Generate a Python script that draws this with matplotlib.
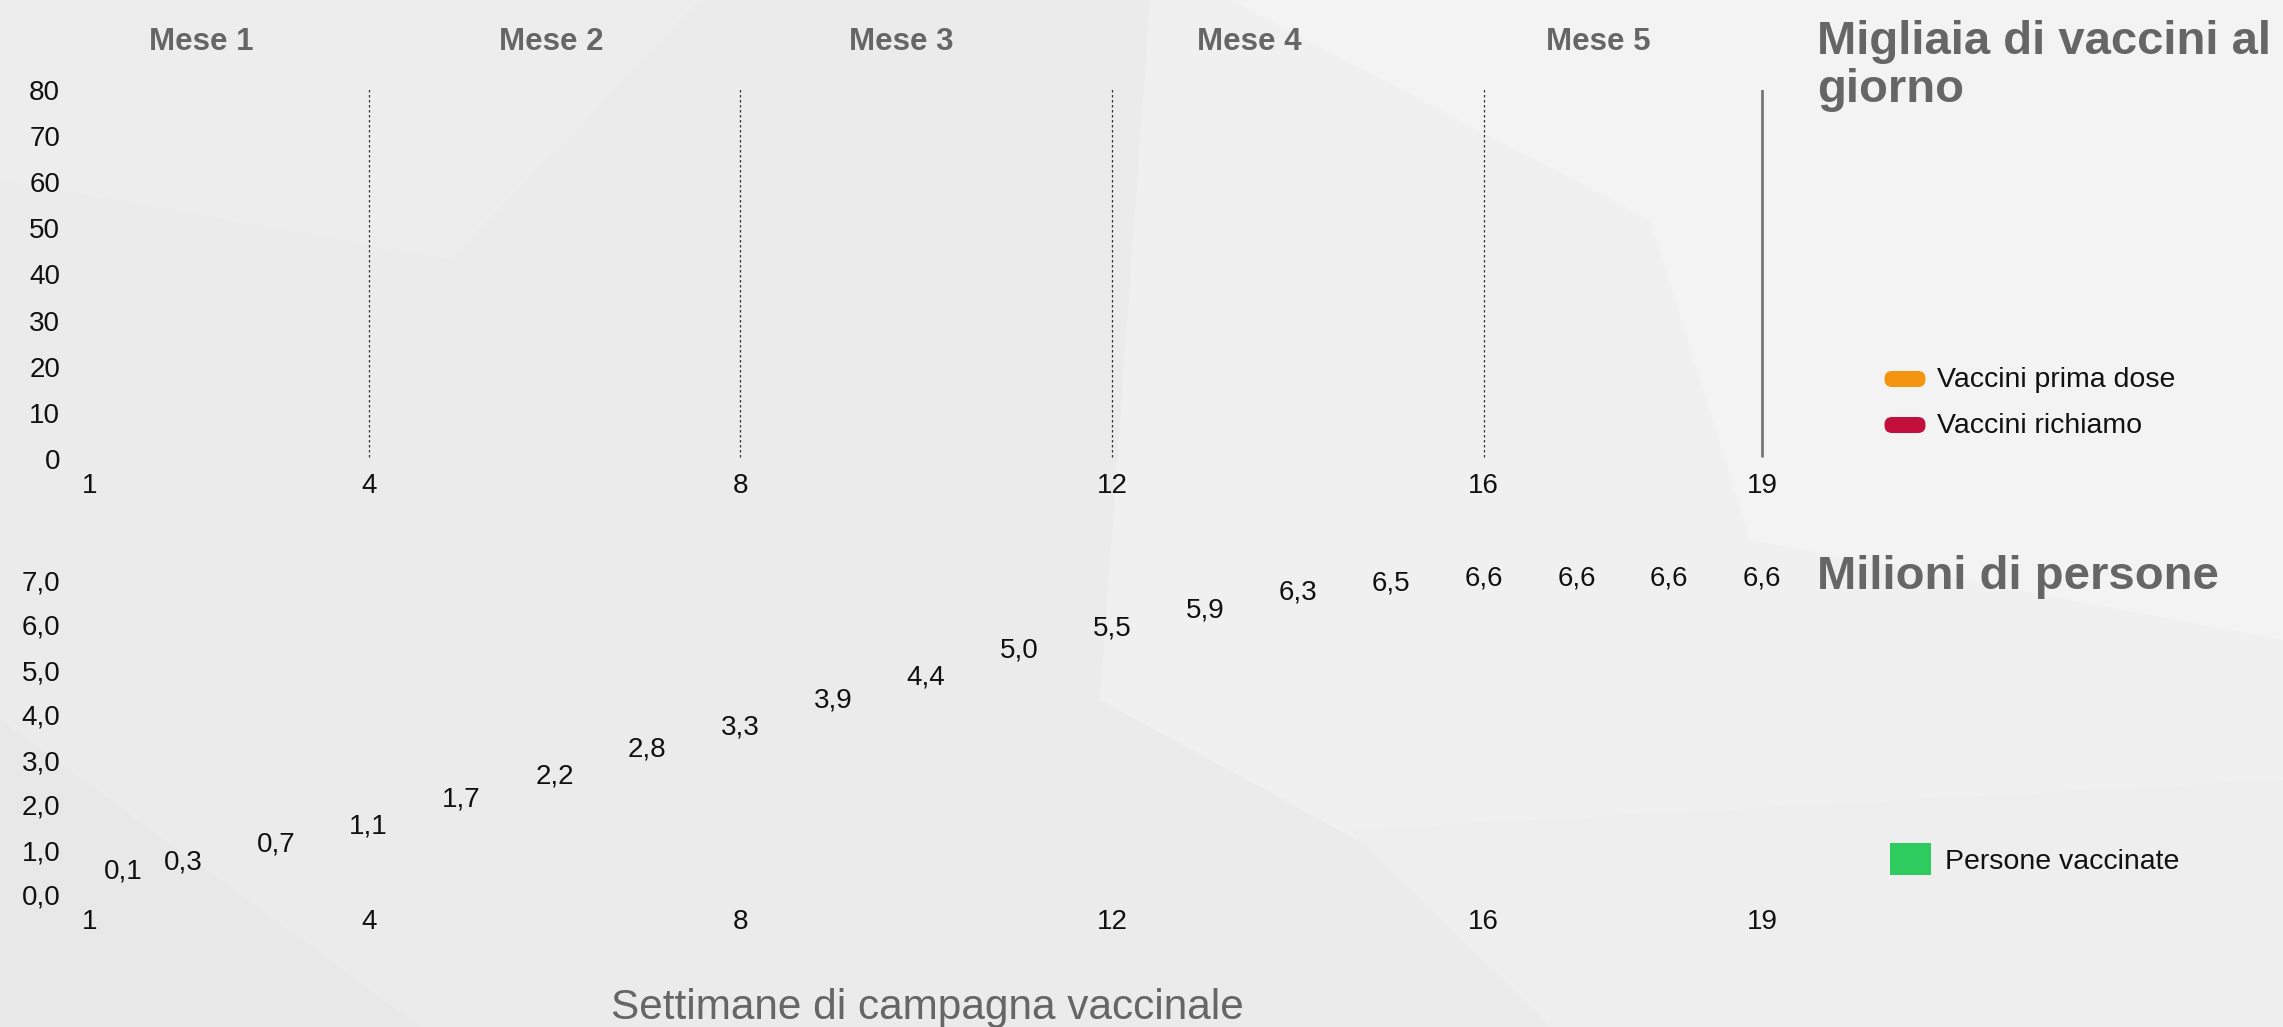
import matplotlib
matplotlib.use("Agg")
import matplotlib.pyplot as plt
from matplotlib.patches import Polygon, FancyBboxPatch, Rectangle

# ---------------- data ----------------
weeks = list(range(1, 20))
persone_vaccinate = [0.1, 0.3, 0.7, 1.1, 1.7, 2.2, 2.8, 3.3, 3.9, 4.4,
                     5.0, 5.5, 5.9, 6.3, 6.5, 6.6, 6.6, 6.6, 6.6]
x_ticks = [1, 4, 8, 12, 16, 19]
month_labels = ["Mese 1", "Mese 2", "Mese 3", "Mese 4", "Mese 5"]
month_centers = [2.2, 5.97, 9.73, 13.48, 17.24]
month_bounds = [4, 8, 12, 16]
top_yticks = [0, 10, 20, 30, 40, 50, 60, 70, 80]
bottom_yticks = [0, 1, 2, 3, 4, 5, 6, 7]
legend_top = ["Vaccini prima dose", "Vaccini richiamo"]
legend_top_colors = ["#F4950F", "#C20F3B"]
legend_bottom = "Persone vaccinate"
legend_bottom_color = "#2ECC5E"

plt.rcParams['font.family'] = ['Liberation Sans', 'DejaVu Sans']

W, H = 2283, 1027
fig = plt.figure(figsize=(W / 100, H / 100), dpi=100)
fig.patch.set_facecolor("#ebebeb")

def fx(px):
    return px / W

def fy(py):
    return 1 - py / H

# background polygons (subtle texture)
bg = fig.add_axes([0, 0, 1, 1], zorder=-10)
bg.set_xlim(0, W)
bg.set_ylim(H, 0)
bg.axis("off")
polys = [
    ([(1150, 0), (2283, 0), (2283, 1027), (1700, 1027), (1100, 700)], "#f0f0f0"),
    ([(1230, 0), (2283, 0), (2283, 640), (1750, 540), (1650, 220)], "#f3f3f3"),
    ([(0, 0), (700, 0), (450, 260), (0, 180)], "#ededed"),
    ([(0, 720), (420, 1027), (0, 1027)], "#e8e8e8"),
    ([(1350, 830), (2283, 780), (2283, 1027), (1550, 1027)], "#eeeeee"),
]
for pts, c in polys:
    bg.add_patch(Polygon(pts, closed=True, facecolor=c, edgecolor="none"))

# axes geometry (pixels)
x_left = 90 - 0.5 * 92.9
x_right = 90 + 18.5 * 92.9
ax_l = fx(x_left)
ax_w = fx(x_right) - ax_l
ypad = -12

# ---------------- top panel ----------------
top_y0, top_y1 = 459, 90
ax1 = fig.add_axes([ax_l, fy(top_y0), ax_w, fy(top_y1) - fy(top_y0)])
ax1.set_xlim(0.5, 19.5)
ax1.set_ylim(0, 80)
ax1.patch.set_alpha(0)
for s in ax1.spines.values():
    s.set_visible(False)
ax1.set_yticks(top_yticks)
ax1.set_yticklabels([str(v) for v in top_yticks], fontsize=20, color="#111111")
ax1.set_xticks(x_ticks)
ax1.set_xticklabels([str(v) for v in x_ticks], fontsize=20, color="#111111")
ax1.tick_params(axis="y", length=0, pad=ypad)
ax1.tick_params(axis="x", length=0, pad=10)
for xb in month_bounds:
    ax1.vlines(xb, 0.5, 80.5, colors="#333333", linestyles=(0, (2, 2)), linewidth=0.9)
ax1.vlines(19, 0.5, 80.5, colors="#777777", linewidth=2)
month_y = 1 + (90 - 42) / (459 - 90)
for lab, xc in zip(month_labels, month_centers):
    ax1.text(xc, month_y, lab, transform=ax1.get_xaxis_transform(), ha="center",
             va="center", fontsize=22.5, fontweight="bold", color="#666666")

# ---------------- bottom panel ----------------
bot_y0, bot_y1 = 895, 580
ax2 = fig.add_axes([ax_l, fy(bot_y0), ax_w, fy(bot_y1) - fy(bot_y0)])
ax2.set_xlim(0.5, 19.5)
ax2.set_ylim(0, 7)
ax2.patch.set_alpha(0)
for s in ax2.spines.values():
    s.set_visible(False)
ax2.set_yticks(bottom_yticks)
ax2.set_yticklabels([f"{v:.1f}".replace(".", ",") for v in bottom_yticks],
                    fontsize=20, color="#111111")
ax2.set_xticks(x_ticks)
ax2.set_xticklabels([str(v) for v in x_ticks], fontsize=20, color="#111111")
ax2.tick_params(axis="y", length=0, pad=ypad)
ax2.tick_params(axis="x", length=0, pad=10)
# bars are not rendered in the reference (invisible); only their value labels show
ax2.bar(weeks, persone_vaccinate, width=0.6, color="none", edgecolor="none")
for w, v in zip(weeks, persone_vaccinate):
    dx = 24 if w == 1 else 0
    ax2.annotate(f"{v:.1f}".replace(".", ","), xy=(w, v), xytext=(dx, 14),
                 textcoords="offset points", ha="center", va="center",
                 fontsize=20, color="#111111")

# ---------------- right-side titles and legends ----------------
fig.text(fx(1817), fy(66), "Migliaia di vaccini al\ngiorno", ha="left", va="center",
         fontsize=34, fontweight="bold", color="#666666", linespacing=1.1)
fig.text(fx(1817), fy(577), "Milioni di persone", ha="left", va="center",
         fontsize=34, fontweight="bold", color="#666666")

lg = fig.add_axes([0, 0, 1, 1], zorder=5)
lg.set_xlim(0, W)
lg.set_ylim(H, 0)
lg.axis("off")
for i, (lab, col) in enumerate(zip(legend_top, legend_top_colors)):
    yc = 379 + i * 46
    lg.add_patch(FancyBboxPatch((1892, yc - 0.5), 26, 1, boxstyle="round,pad=7.5",
                                facecolor=col, edgecolor="none"))
    lg.text(1937, yc + 1, lab, ha="left", va="center", fontsize=20.5, color="#111111")
lg.add_patch(Rectangle((1890, 843), 41, 32, facecolor=legend_bottom_color, edgecolor="none"))
lg.text(1945, 862, legend_bottom, ha="left", va="center", fontsize=20.5, color="#111111")

fig.text(fx(927), fy(1008), "Settimane di campagna vaccinale", ha="center", va="center",
         fontsize=30.5, color="#666666")

fig.savefig("out.png", dpi=100, facecolor=fig.get_facecolor())
